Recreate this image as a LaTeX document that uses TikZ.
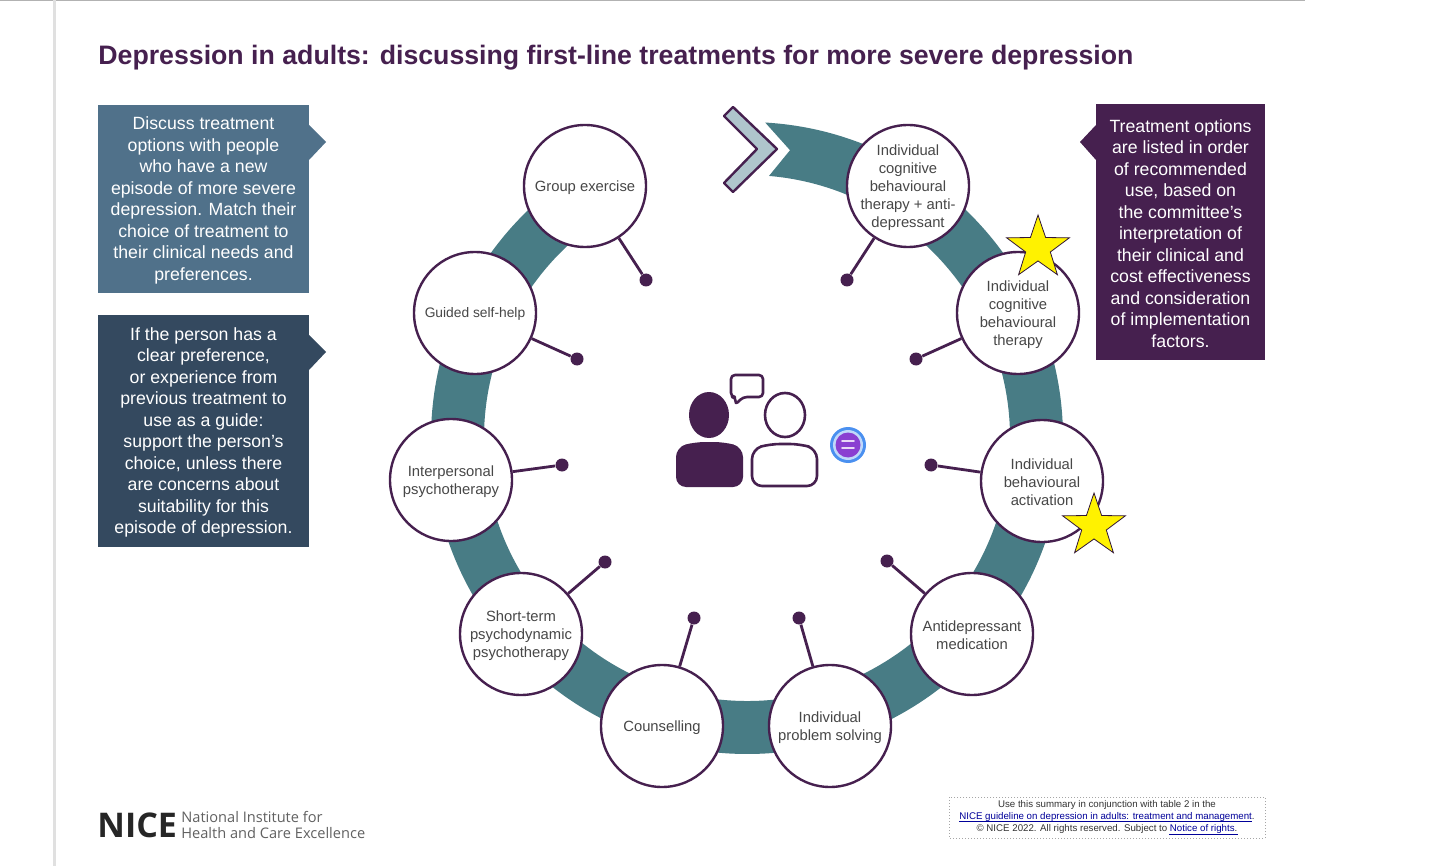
\documentclass[tikz,border=0pt]{standalone}
\usepackage{fontspec}
\setmainfont{Liberation Sans}
\newfontfamily\logofont{Open Sans}
\usetikzlibrary{shapes.geometric,calc}
\definecolor{nicepurple}{HTML}{46204F}
\definecolor{niceteal}{HTML}{487C85}
\definecolor{boxblue}{HTML}{50718A}
\definecolor{boxnavy}{HTML}{34495F}
\definecolor{chevfill}{HTML}{AFC5CC}
\definecolor{badgering}{HTML}{4A90F0}
\definecolor{badgefill}{HTML}{8A3FD1}
\tikzstyle{option}=[draw=nicepurple,line width=1.2pt,circle,fill=white,minimum size=61pt,inner sep=0pt]
\tikzstyle{optiontext}=[align=center,font=\fontsize{7.4}{9}\selectfont,text=black!72,inner sep=0pt,yshift=-.6pt]
\tikzstyle{pindot}=[circle,fill=nicepurple,minimum size=6.5pt,inner sep=0pt]
\tikzstyle{pinline}=[draw=nicepurple,line width=1.4pt]
\tikzstyle{panel}=[align=center,inner sep=0pt,text=white,font=\fontsize{8.85}{10.75}\selectfont,yshift=-.8pt]
\tikzstyle{rate}=[star,star points=5,star point ratio=2.55,fill=yellow,draw=nicepurple!70!black,line width=.4pt,minimum size=33pt,inner sep=0pt]
\newcommand{\newOption}[4]{
  \node[pindot](#1d) at (#4){};
  \node[option](#1) at (#2){};
  \node[optiontext](#1t) at (#1){#3};
  \draw[pinline] (#1) -- (#1d);
}
\newcommand{\newPanel}[6]{
  \fill[#5] (#2) rectangle (#3);
  \fill[#5] #6;
  \node[panel](#1) at ($(#2)!.5!(#3)$){#4};
}
\begin{document}
\begin{tikzpicture}[x=.5pt,y=.5pt]
    \useasboundingbox (0,0) rectangle (1440,-866);
    \fill[white] (0,0) rectangle (1440,-866);
    % page edges
    \draw[black!30,line width=1pt] (0,-.5) -- (1305,-.5);
    \draw[black!12,line width=1.5pt] (54,0) -- (54,-866);
    \node[anchor=west,inner sep=0pt,text=nicepurple,font=\bfseries\fontsize{13.35}{15}\selectfont](title) at (98,-58)
      {Depression in adults: discussing first-line treatments for more severe depression};
    % ring
    \coordinate (ringc) at (747,-438);
    \fill[niceteal] (ringc) ++(86.7:316) arc[start angle=86.7,end angle=-237.3,radius=316]
      -- ++(122.7:-53) arc[start angle=-237.3,end angle=85.2,radius=263]
      -- ($(ringc)+(81.5:291)$) -- cycle;
    % chevron
    \filldraw[fill=chevfill,draw=nicepurple,line width=1.2pt,line join=round]
      (733,-107) -- (777,-149) -- (733,-192) -- (724,-183) -- (757,-149) -- (724,-116) -- cycle;
    \newOption{group}{585,-186}{Group exercise}{646,-280}
    \newOption{guided}{475,-313}{\fontsize{6.9}{9}\selectfont Guided self-help}{577,-359}
    \newOption{ipt}{451,-480}{Interpersonal\\psychotherapy}{562,-465}
    \newOption{stpp}{521,-634}{Short-term\\psychodynamic\\psychotherapy}{605,-562}
    \newOption{couns}{662,-726}{Counselling}{694,-618}
    \newOption{ips}{830,-726}{Individual\\problem solving}{799,-618}
    \newOption{adm}{972,-634}{Antidepressant\\medication}{887,-561}
    \newOption{iba}{1042,-481}{Individual\\behavioural\\activation}{931,-465}
    \newOption{icbt}{1018,-313}{Individual\\cognitive\\behavioural\\therapy}{916,-359}
    \newOption{icbtad}{908,-186}{Individual\\cognitive\\behavioural\\therapy + anti-\\depressant}{847,-280}
    \node[rate](staricbt) at (1038,-248){};
    \node[rate](stariba) at (1094,-526){};
    % panels
    \newPanel{discuss}{98,-105}{309,-293}{Discuss treatment\\options with people\\who have a new\\episode of more severe\\depression. Match their\\choice of treatment to\\their clinical needs and\\preferences.}{boxblue}{(309,-125) -- (326,-142) -- (309,-160) -- cycle}
    \newPanel{prefer}{98,-315}{309,-547}{If the person has a\\clear preference,\\or experience from\\previous treatment to\\use as a guide:\\support the person's\\choice, unless there\\are concerns about\\suitability for this\\episode of depression.}{boxnavy}{(309,-335) -- (326,-352) -- (309,-370) -- cycle}
    \newPanel{order}{1096,-104}{1265,-360}{Treatment options\\are listed in order\\of recommended\\use, based on\\the committee's\\interpretation of\\their clinical and\\cost effectiveness\\and consideration\\of implementation\\factors.}{nicepurple}{(1096,-125) -- (1080,-142) -- (1096,-160) -- cycle}
    % people
    \fill[nicepurple] (709,-415) ellipse[x radius=20,y radius=23];
    \fill[nicepurple,rounded corners=5pt] (676,-447) -- (695,-442) -- (724,-442) -- (743,-447) -- (743,-487) -- (676,-487) -- cycle;
    \draw[nicepurple,line width=1.3pt] (785,-415) ellipse[x radius=20,y radius=22];
    \draw[nicepurple,line width=1.3pt,rounded corners=5pt] (752,-449) -- (770,-444) -- (800,-444) -- (817,-449) -- (817,-486) -- (752,-486) -- cycle;
    \draw[nicepurple,line width=1.3pt,line join=round,rounded corners=2pt] (731,-375) -- (763,-375) -- (763,-397) -- (743,-397) -- (735,-405) -- (736,-397) -- (731,-397) -- cycle;
    % chat badge
    \fill[badgering] (848,-445) circle[radius=18];
    \fill[badgering!35!white] (848,-445) circle[radius=15];
    \fill[badgefill] (848,-445) circle[radius=12.5];
    \draw[white!80!badgefill,line width=.9pt,line cap=round] (842,-441) -- (854,-441) (842,-448) -- (854,-448);
    % logo
    \node[anchor=west,inner sep=0pt,text=black!85,font=\logofont\bfseries\fontsize{17}{20}\selectfont](nice) at (97,-825){NICE};
    \node[anchor=west,inner sep=0pt,align=left,text=black!62,font=\logofont\fontsize{7.3}{8}\selectfont](niceword) at (181,-825){National Institute for\\Health and Care Excellence};
    % footer note
    \draw[black!35,densely dotted,line width=.5pt] (949,-797) rectangle (1265,-838);
    \node[inner sep=0pt,align=center,text=black!80,font=\fontsize{4.85}{6}\selectfont](usenote) at (1107,-816.5)
      {Use this summary in conjunction with table 2 in the\\
       \textcolor{blue!60!black}{NICE guideline on depression in adults: treatment and management}.\\
       © NICE 2022. All rights reserved. Subject to \textcolor{blue!60!black}{Notice of rights}.};
    \draw[blue!60!black,line width=.3pt] (959,-821.5) -- (1252,-821.5) (1169,-834) -- (1238,-834);
\end{tikzpicture}
\end{document}
